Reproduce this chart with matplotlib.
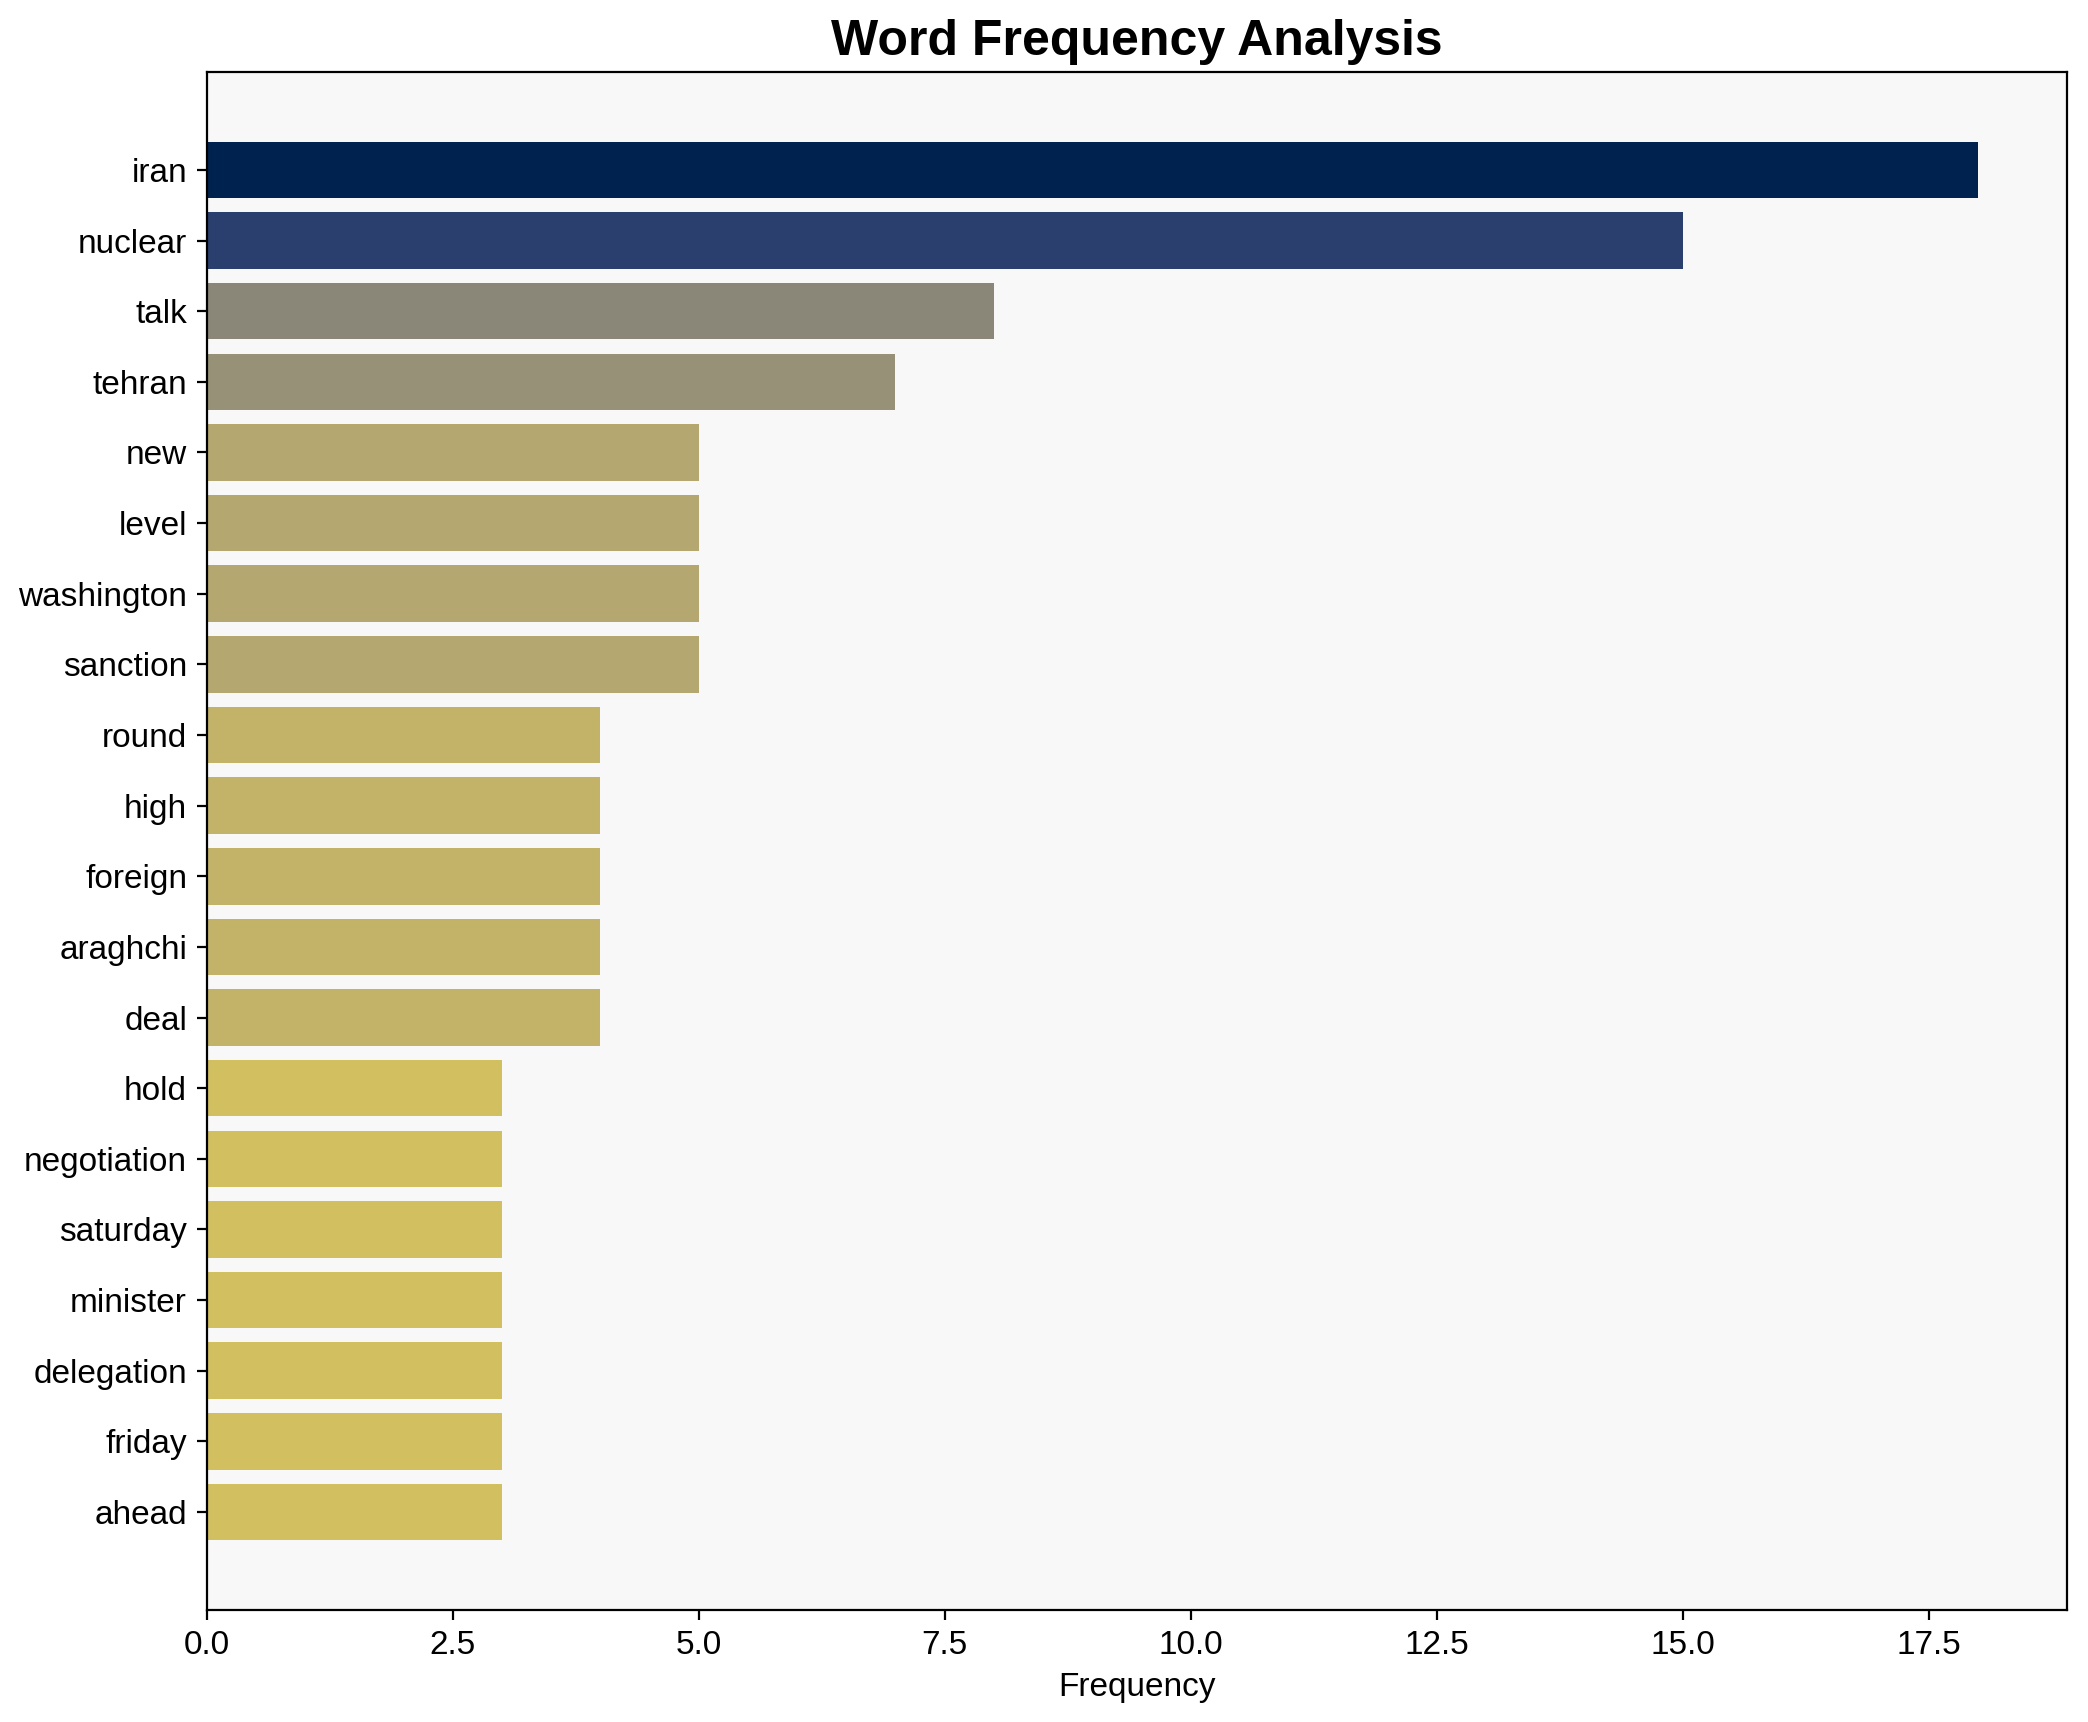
import matplotlib.pyplot as plt
import numpy as np

plt.rcParams["font.family"] = ["Liberation Sans", "DejaVu Sans"]

words = ["iran", "nuclear", "talk", "tehran", "new", "level", "washington",
         "sanction", "round", "high", "foreign", "araghchi", "deal", "hold",
         "negotiation", "saturday", "minister", "delegation", "friday", "ahead"]
counts = [18, 15, 8, 7, 5, 5, 5, 5, 4, 4, 4, 4, 4, 3, 3, 3, 3, 3, 3, 3]

counts = np.array(counts)
colors = plt.cm.cividis_r(counts / counts.max())

fig = plt.figure(figsize=(10.44, 8.61), dpi=200)
ax = fig.add_axes([0.0989, 0.0650, 0.8909, 0.8933])
ax.set_facecolor("#f8f8f8")

y = np.arange(len(words))
ax.barh(y, counts, color=colors, height=0.8)
ax.set_yticks(y)
ax.set_yticklabels(words)
ax.invert_yaxis()

ax.tick_params(labelsize=12)
ax.set_xlabel("Frequency", fontsize=12)
ax.set_title("Word Frequency Analysis", fontsize=18, fontweight="bold")

plt.savefig("out.png", dpi=200)
